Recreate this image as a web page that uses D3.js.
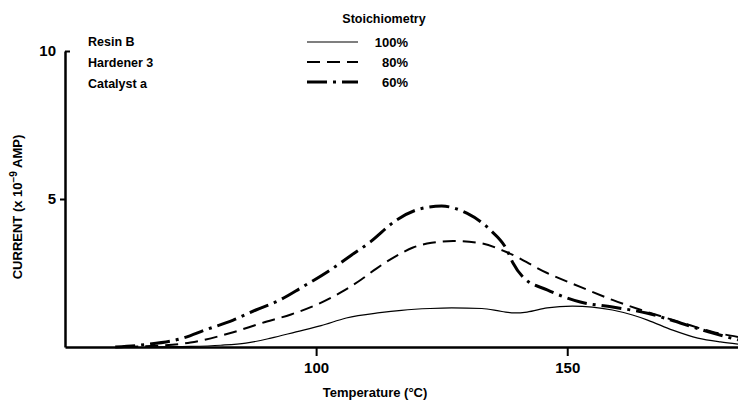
<!DOCTYPE html>
<html>
<head>
<meta charset="utf-8">
<script src="https://cdn.jsdelivr.net/npm/d3@7"></script>
<style>
  body { margin: 0; background: #fff; }
  svg { display: block; }
  text { font-family: "Liberation Sans", Arial, sans-serif; font-weight: bold; fill: #000; }
</style>
</head>
<body>
<div id="chart"></div>
<script>
// data (temperature in °C, current in 1e-9 A)
var temps100 = [66, 75, 81, 86, 91, 96, 101, 106, 112.7, 117, 122.7, 127, 133, 137, 139.5, 142, 146, 151, 155, 159, 163, 166, 171, 176, 180.5, 184];
var current100 = [0, 0.02, 0.06, 0.13, 0.3, 0.51, 0.72, 0.98, 1.16, 1.24, 1.3, 1.32, 1.3, 1.2, 1.15, 1.18, 1.32, 1.38, 1.35, 1.25, 1.08, 0.91, 0.57, 0.3, 0.17, 0.1];

var temps80 = [62, 68, 75, 83.5, 89, 95, 100, 105, 109, 112, 116, 119.3, 123, 127.3, 132.7, 138, 146, 152.6, 159, 166, 172.5, 179, 184];
var current80 = [0, 0.04, 0.15, 0.5, 0.8, 1.1, 1.42, 1.85, 2.28, 2.65, 3.08, 3.36, 3.52, 3.58, 3.51, 3.2, 2.5, 2.03, 1.59, 1.18, 0.84, 0.51, 0.34];

var temps60 = [60, 66, 73.5, 78, 83.5, 88, 92.8, 97, 102.8, 107, 110.8, 116, 121, 125, 130, 134.7, 138, 139.2, 141.2, 146, 152.6, 159, 166, 172.5, 179, 184];
var current60 = [0, 0.08, 0.3, 0.58, 0.91, 1.25, 1.59, 2.0, 2.6, 3.1, 3.55, 4.29, 4.68, 4.76, 4.52, 3.95, 3.28, 2.84, 2.36, 1.93, 1.52, 1.35, 1.14, 0.81, 0.47, 0.24];

var xTicks = [100, 150];
var yTicks = [5, 10];
var legendLabels = ['100%', '80%', '60%'];
var noteLines = ['Resin B', 'Hardener 3', 'Catalyst a'];

var width = 738, height = 400;
var svg = d3.select('#chart').append('svg')
  .attr('width', width)
  .attr('height', height);

var x = d3.scaleLinear().domain([50, 184]).range([65, 738]);
var y = d3.scaleLinear().domain([0, 10]).range([347, 51]);

// series
var series = [
  { t: temps100, c: current100, width: 1.2, dash: null },
  { t: temps80, c: current80, width: 2, dash: '13,7' },
  { t: temps60, c: current60, width: 3, dash: '20,6,3,6' }
];

var line = d3.line()
  .x(function (d) { return x(d[0]); })
  .y(function (d) { return y(d[1]); })
  .curve(d3.curveMonotoneX);

series.forEach(function (s) {
  var pts = s.t.map(function (t, i) { return [t, s.c[i]]; });
  svg.append('path')
    .datum(pts)
    .attr('d', line)
    .attr('fill', 'none')
    .attr('stroke', '#000')
    .attr('stroke-width', s.width)
    .attr('stroke-dasharray', s.dash);
});

// axes
var xAxis = d3.axisBottom(x).tickValues(xTicks).tickSize(9).tickSizeOuter(0).tickPadding(6);
var gx = svg.append('g').attr('transform', 'translate(0,' + y(0) + ')').call(xAxis);
gx.select('.domain').attr('stroke-width', 2.5);
gx.selectAll('.tick line').attr('stroke-width', 2);
gx.selectAll('.tick text').style('font-size', '15px').style('font-family', '"Liberation Sans", Arial, sans-serif').style('font-weight', 'bold');

var yAxis = d3.axisLeft(y).tickValues(yTicks).tickSize(5).tickSizeOuter(0).tickPadding(4);
var gy = svg.append('g').attr('transform', 'translate(' + x(50) + ',0)').call(yAxis);
gy.select('.domain').attr('stroke-width', 2.5);
gy.selectAll('.tick line').attr('stroke-width', 2);
gy.selectAll('.tick text').style('font-size', '15px').style('font-family', '"Liberation Sans", Arial, sans-serif').style('font-weight', 'bold');
// the top tick hooks to the right in the original
gy.selectAll('.tick').filter(function (d) { return d === 10; }).select('line').attr('x2', 5);

// axis titles
svg.append('text')
  .attr('x', 375).attr('y', 397)
  .attr('text-anchor', 'middle')
  .style('font-size', '13px')
  .text('Temperature (°C)');

var yl = svg.append('text')
  .attr('transform', 'translate(22,207) rotate(-90)')
  .attr('text-anchor', 'middle')
  .style('font-size', '13px');
yl.append('tspan').text('CURRENT (x 10');
yl.append('tspan').attr('dy', -5).style('font-size', '10px').text('−9');
yl.append('tspan').attr('dy', 5).text(' AMP)');

// notes on the left
noteLines.forEach(function (n, i) {
  svg.append('text')
    .attr('x', 88).attr('y', 46 + i * 21)
    .style('font-size', '12.5px')
    .text(n);
});

// legend
svg.append('text')
  .attr('x', 384).attr('y', 23)
  .attr('text-anchor', 'middle')
  .style('font-size', '12.5px')
  .text('Stoichiometry');

legendLabels.forEach(function (lab, i) {
  var ly = 42 + i * 20;
  svg.append('line')
    .attr('x1', 307).attr('x2', 358)
    .attr('y1', ly).attr('y2', ly)
    .attr('stroke', '#000')
    .attr('stroke-width', series[i].width)
    .attr('stroke-dasharray', series[i].dash);
  svg.append('text')
    .attr('x', 408).attr('y', ly + 5)
    .attr('text-anchor', 'end')
    .style('font-size', '13px')
    .text(lab);
});
</script>
</body>
</html>
